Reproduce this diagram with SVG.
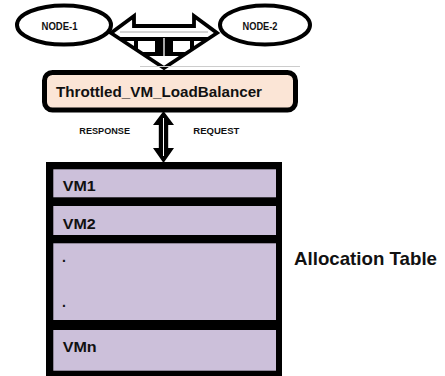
<svg xmlns="http://www.w3.org/2000/svg" width="445" height="376" viewBox="0 0 445 376">
  <style>
    .lbl { font-family: "Liberation Sans", Arial, sans-serif; font-weight: bold; fill: #111; }
    .node { fill: #fff; stroke: #000; stroke-width: 4; }
    .row { fill: #CCC0DA; }
    .rowtxt { font-size: 14px; }
  </style>
  <defs>
    <clipPath id="splitClip">
      <polygon points="111,33 134,16 134,26 194,26 194,16 217,33 164,68"/>
    </clipPath>
  </defs>

  <rect width="445" height="376" fill="#fff"/>

  <!-- nodes -->
  <g id="node-1">
    <ellipse class="node" cx="64" cy="25" rx="47" ry="19.5"/>
    <text class="lbl" x="59.5" y="29.5" font-size="10" text-anchor="middle" textLength="36" lengthAdjust="spacingAndGlyphs">NODE-1</text>
  </g>
  <g id="node-2">
    <ellipse class="node" cx="265" cy="25" rx="45" ry="19.5"/>
    <text class="lbl" x="260" y="29.5" font-size="10" text-anchor="middle" textLength="35" lengthAdjust="spacingAndGlyphs">NODE-2</text>
  </g>

  <g id="load-balancer">
    <rect x="44.5" y="72.5" width="251" height="37.5" rx="8" fill="#FBE5D6" stroke="#000" stroke-width="5"/>
    <text class="lbl" x="56" y="97" font-size="15.5" textLength="206" lengthAdjust="spacingAndGlyphs">Throttled_VM_LoadBalancer</text>
  </g>

  <g id="allocation-table">
    <rect x="46" y="162" width="236" height="214" fill="#000"/>
    <g id="row-vm1">
      <rect class="row" x="53.3" y="169.3" width="222.7" height="28"/>
      <text class="lbl rowtxt" x="62.7" y="191" textLength="33" lengthAdjust="spacingAndGlyphs">VM1</text>
    </g>
    <g id="row-vm2">
      <rect class="row" x="53.3" y="206" width="222.7" height="29"/>
      <text class="lbl rowtxt" x="62.7" y="228.5" textLength="33" lengthAdjust="spacingAndGlyphs">VM2</text>
    </g>
    <g id="row-gap">
      <rect class="row" x="53.3" y="243.3" width="222.7" height="76.7"/>
      <text class="lbl rowtxt" x="62" y="262">.</text>
      <text class="lbl rowtxt" x="62" y="307">.</text>
    </g>
    <g id="row-vmn">
      <rect class="row" x="53.3" y="330" width="222.7" height="40.7"/>
      <text class="lbl rowtxt" x="62.7" y="352" textLength="34" lengthAdjust="spacingAndGlyphs">VMn</text>
    </g>
  </g>
  <text class="lbl" x="294" y="265" font-size="18.5" textLength="143" lengthAdjust="spacingAndGlyphs">Allocation Table</text>

  <!-- connectors -->
  <g id="connectors">
    <!-- three-way split arrow between the nodes and the balancer -->
    <g id="split-arrow">
      <polygon points="111,33 134,16 134,26 194,26 194,16 217,33 164,68" fill="#fff"/>
      <g clip-path="url(#splitClip)" stroke="#000" stroke-width="4" fill="none">
        <line x1="120" y1="39" x2="208" y2="39"/>
        <line x1="120" y1="54" x2="208" y2="54"/>
        <line x1="136" y1="37" x2="136" y2="56"/>
        <line x1="192" y1="37" x2="192" y2="56"/>
        <rect x="155" y="39" width="18" height="16" fill="#000" stroke="none"/>
        <line x1="120" y1="32" x2="208" y2="32" stroke="#aaa" stroke-width="1"/>
        <line x1="164" y1="38" x2="164" y2="64" stroke="#fff" stroke-width="1.3"/>
      </g>
      <polygon points="111,33 134,16 134,26 194,26 194,16 217,33 164,68" fill="none" stroke="#000" stroke-width="3.8"/>
    </g>
    <line x1="140" y1="66.5" x2="300" y2="66.5" stroke="#ccc" stroke-width="1"/>

    <!-- request / response double arrow -->
    <g id="io-arrow">
      <polygon points="163.5,111 174,125 168.2,125 168.2,148 174,148 163.5,163 153,148 158.8,148 158.8,125 153,125" fill="#000"/>
      <line x1="163.5" y1="118" x2="163.5" y2="156" stroke="#fff" stroke-width="1"/>
    </g>
    <text class="lbl" x="79.3" y="134" font-size="9.5" textLength="50.7" lengthAdjust="spacingAndGlyphs">RESPONSE</text>
    <text class="lbl" x="193.3" y="134" font-size="9.5" textLength="46" lengthAdjust="spacingAndGlyphs">REQUEST</text>
  </g>
</svg>
